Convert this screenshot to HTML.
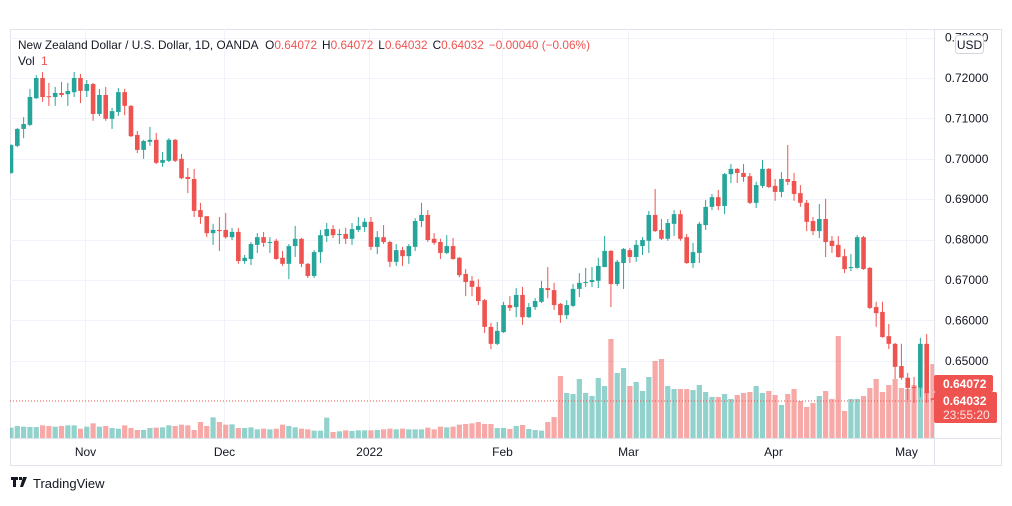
<!DOCTYPE html>
<html><head><meta charset="utf-8">
<style>
html,body{margin:0;padding:0;background:#fff;}
body{width:1012px;height:501px;overflow:hidden;font-family:"Liberation Sans",sans-serif;}
svg text{font-family:"Liberation Sans",sans-serif;}
</style></head>
<body>
<svg id="chart" width="1012" height="501" xmlns="http://www.w3.org/2000/svg">
  <rect x="10.5" y="29.5" width="991" height="436" fill="#fff" stroke="#e0e3eb"/>
  <g id="grid"></g>
  <g id="vol" clip-path="url(#pane)"></g>
  <line x1="10" x2="934" y1="401" y2="401" stroke="#ef5350" stroke-dasharray="1,2" stroke-width="1"/>
  <g id="candles" clip-path="url(#pane)"></g>
  <defs><clipPath id="pane"><rect x="10" y="29" width="924" height="409"/></clipPath></defs>
  <line x1="934.5" x2="934.5" y1="29" y2="466" stroke="#e0e3eb"/>
  <line x1="10" x2="1002" y1="438.5" y2="438.5" stroke="#e0e3eb"/>
  <g id="yaxis"></g>
  <g id="xaxis"></g>
  <g>
    <rect x="955.5" y="35.5" width="28" height="18" rx="3" fill="#fff" stroke="#d1d4dc"/>
    <text x="969.5" y="49" font-size="12" fill="#131722" text-anchor="middle">USD</text>
  </g>
  <g>
    <rect x="934" y="375" width="59" height="17" rx="2" fill="#ef5350"/>
    <text x="943" y="388" font-size="12" font-weight="bold" fill="#fff">0.64072</text>
  </g>
  <g>
    <rect x="934" y="392" width="63" height="31" rx="2" fill="#ef5350"/>
    <text x="943" y="405" font-size="12" font-weight="bold" fill="#fff">0.64032</text>
    <text x="943" y="419" font-size="12" fill="#fde3e3">23:55:20</text>
  </g>
  <text x="18" y="49" font-size="11.8" fill="#131722" textLength="572" lengthAdjust="spacing">New Zealand Dollar / U.S. Dollar, 1D, OANDA <tspan dx="4">O</tspan><tspan fill="#ef5350">0.64072</tspan><tspan dx="5">H</tspan><tspan fill="#ef5350">0.64072</tspan><tspan dx="5">L</tspan><tspan fill="#ef5350">0.64032</tspan><tspan dx="5">C</tspan><tspan fill="#ef5350">0.64032</tspan><tspan dx="5" fill="#ef5350">−0.00040 (−0.06%)</tspan></text>
  <text x="18" y="65" font-size="12" fill="#131722">Vol <tspan dx="3" fill="#ef5350">1</tspan></text>
  <g>
    <path d="M11 477h7v3h-2v7h-3v-7h-2z M19 477h3v3h-3z M23 477h4l-4 10h-3z" fill="#131722"/>
    <text x="33" y="488" font-size="13" fill="#131722">TradingView</text>
  </g>
</svg>
<script>
const opens=[0.6965,0.7032,0.7074,0.7084,0.7150,0.7200,0.7155,0.7153,0.7163,0.7160,0.7165,0.7200,0.7168,0.7185,0.7111,0.7158,0.7099,0.7116,0.7165,0.7131,0.7059,0.7022,0.7042,0.7047,0.6990,0.6995,0.7047,0.7000,0.6955,0.6950,0.6873,0.6858,0.6816,0.6824,0.6824,0.6806,0.6819,0.6747,0.6752,0.6787,0.6806,0.6792,0.6797,0.6755,0.6740,0.6784,0.6802,0.6740,0.6710,0.6769,0.6809,0.6826,0.6813,0.6814,0.6802,0.6824,0.6831,0.6844,0.6782,0.6806,0.6794,0.6745,0.6774,0.6759,0.6782,0.6846,0.6861,0.6802,0.6794,0.6767,0.6784,0.6755,0.6715,0.6698,0.6683,0.6650,0.6584,0.6542,0.6571,0.6638,0.6633,0.6663,0.6608,0.6633,0.6646,0.6680,0.6675,0.6641,0.6613,0.6636,0.6678,0.6693,0.6695,0.6698,0.6732,0.6772,0.6690,0.6742,0.6774,0.6757,0.6784,0.6797,0.6861,0.6824,0.6802,0.6839,0.6863,0.6806,0.6742,0.6767,0.6836,0.6881,0.6905,0.6883,0.6962,0.6975,0.6965,0.6957,0.6891,0.6933,0.6975,0.6933,0.6918,0.6950,0.6945,0.6915,0.6891,0.6846,0.6821,0.6851,0.6797,0.6787,0.6759,0.6730,0.6730,0.6806,0.6730,0.6633,0.6621,0.6561,0.6542,0.6487,0.6458,0.6435,0.6433,0.6542,0.64072];
const highs=[0.7036,0.7076,0.7103,0.7173,0.7207,0.7215,0.7188,0.7178,0.7190,0.7188,0.7215,0.7210,0.7195,0.7188,0.7173,0.7178,0.7126,0.7175,0.7173,0.7133,0.7069,0.7047,0.7079,0.7064,0.7017,0.7051,0.7049,0.7012,0.6977,0.6975,0.6891,0.6858,0.6839,0.6856,0.6866,0.6829,0.6829,0.6762,0.6794,0.6816,0.6819,0.6806,0.6802,0.6772,0.6789,0.6834,0.6804,0.6742,0.6774,0.6824,0.6841,0.6836,0.6826,0.6829,0.6841,0.6856,0.6853,0.6856,0.6821,0.6836,0.6797,0.6789,0.6782,0.6789,0.6853,0.6891,0.6873,0.6816,0.6802,0.6811,0.6804,0.6757,0.6727,0.6710,0.6702,0.6653,0.6594,0.6596,0.6646,0.6660,0.6680,0.6683,0.6643,0.6655,0.6698,0.6732,0.6693,0.6643,0.6650,0.6690,0.6717,0.6730,0.6732,0.6755,0.6809,0.6774,0.6750,0.6779,0.6779,0.6799,0.6806,0.6871,0.6925,0.6851,0.6851,0.6873,0.6873,0.6814,0.6792,0.6844,0.6898,0.6913,0.6923,0.6965,0.6987,0.6977,0.6987,0.6965,0.6943,0.6997,0.6977,0.6950,0.6967,0.7034,0.6965,0.6935,0.6898,0.6856,0.6888,0.6901,0.6809,0.6809,0.6777,0.6764,0.6811,0.6809,0.6732,0.6646,0.6646,0.6591,0.6544,0.6542,0.6470,0.6460,0.6557,0.6566,0.64072];
const lows=[0.6963,0.7029,0.7051,0.7081,0.7148,0.7141,0.7131,0.7131,0.7153,0.7131,0.7153,0.7138,0.7153,0.7094,0.7106,0.7094,0.7074,0.7106,0.7108,0.7054,0.7014,0.7000,0.7032,0.6987,0.6980,0.6992,0.6992,0.6950,0.6915,0.6856,0.6839,0.6806,0.6787,0.6772,0.6802,0.6799,0.6740,0.6740,0.6737,0.6767,0.6782,0.6767,0.6750,0.6735,0.6702,0.6757,0.6732,0.6705,0.6705,0.6742,0.6794,0.6804,0.6789,0.6789,0.6787,0.6819,0.6819,0.6774,0.6764,0.6789,0.6732,0.6735,0.6735,0.6740,0.6772,0.6831,0.6794,0.6787,0.6752,0.6764,0.6750,0.6707,0.6660,0.6660,0.6638,0.6569,0.6529,0.6539,0.6569,0.6623,0.6608,0.6589,0.6606,0.6626,0.6643,0.6655,0.6626,0.6594,0.6603,0.6633,0.6658,0.6683,0.6683,0.6680,0.6732,0.6633,0.6685,0.6678,0.6742,0.6745,0.6762,0.6767,0.6819,0.6799,0.6797,0.6809,0.6797,0.6740,0.6730,0.6742,0.6824,0.6873,0.6873,0.6863,0.6940,0.6940,0.6943,0.6888,0.6878,0.6928,0.6928,0.6896,0.6905,0.6935,0.6896,0.6881,0.6821,0.6811,0.6804,0.6757,0.6767,0.6755,0.6717,0.6722,0.6728,0.6725,0.6628,0.6584,0.6557,0.6529,0.6455,0.6453,0.6403,0.6396,0.6410,0.6396,0.64032];
const closes=[0.7034,0.7074,0.7086,0.7153,0.7200,0.7153,0.7153,0.7163,0.7158,0.7168,0.7200,0.7168,0.7185,0.7111,0.7158,0.7099,0.7118,0.7165,0.7131,0.7056,0.7022,0.7044,0.7047,0.6990,0.6997,0.7047,0.6995,0.6952,0.6950,0.6871,0.6856,0.6816,0.6824,0.6821,0.6806,0.6819,0.6747,0.6755,0.6789,0.6806,0.6792,0.6794,0.6752,0.6740,0.6784,0.6802,0.6740,0.6710,0.6769,0.6811,0.6826,0.6811,0.6814,0.6802,0.6826,0.6834,0.6844,0.6782,0.6806,0.6794,0.6745,0.6774,0.6759,0.6784,0.6846,0.6861,0.6799,0.6792,0.6767,0.6784,0.6752,0.6712,0.6695,0.6683,0.6648,0.6584,0.6542,0.6574,0.6638,0.6631,0.6663,0.6608,0.6633,0.6648,0.6680,0.6675,0.6638,0.6613,0.6638,0.6678,0.6693,0.6695,0.6700,0.6735,0.6772,0.6690,0.6745,0.6777,0.6757,0.6787,0.6799,0.6861,0.6821,0.6802,0.6841,0.6863,0.6802,0.6742,0.6769,0.6839,0.6881,0.6905,0.6883,0.6962,0.6975,0.6965,0.6955,0.6891,0.6935,0.6975,0.6930,0.6918,0.6950,0.6943,0.6913,0.6891,0.6844,0.6821,0.6851,0.6794,0.6784,0.6757,0.6727,0.6732,0.6806,0.6727,0.6631,0.6618,0.6559,0.6542,0.6485,0.6458,0.6433,0.6433,0.6542,0.6420,0.64032];
const volumes=[31,36,34,33,33,38,36,34,36,38,38,28,34,44,34,36,30,28,38,30,24,24,30,31,32,38,36,40,38,24,48,36,62,48,40,41,30,30,32,26,28,26,28,40,36,32,28,26,22,22,61,18,20,23,21,23,23,23,24,26,28,26,28,26,26,26,31,26,34,32,34,40,42,44,48,42,42,30,30,27,36,39,27,24,22,48,63,186,135,132,177,135,126,180,156,297,195,210,156,168,141,183,231,237,156,147,147,147,144,159,138,123,123,132,117,129,135,138,156,135,141,129,99,132,147,111,93,105,126,141,117,306,81,117,117,126,150,177,138,159,177,150,147,159,150,140,222];
const priceTicks=[0.73,0.72,0.71,0.70,0.69,0.68,0.67,0.66,0.65];
const timeLabels=["Nov","Dec","2022","Feb","Mar","Apr","May"];
const timeIdx=[12,34,57,78,98,121,142];

const NS="http://www.w3.org/2000/svg";
const X0=11, STEP=6.315;
function xAt(i){return X0+i*STEP;}
function yAt(p){return 78+(0.72-p)*4040;}
function vAt(v){return 438-v/3;}
function mk(tag,attrs,parent){const e=document.createElementNS(NS,tag);for(const k in attrs)e.setAttribute(k,attrs[k]);parent.appendChild(e);return e;}

const grid=document.getElementById('grid'), yaxis=document.getElementById('yaxis'), xaxis=document.getElementById('xaxis');
priceTicks.forEach(p=>{
  const y=Math.round(yAt(p))+0.5;
  const gl=mk('line',{x1:10,x2:934,y1:y,y2:y,stroke:'#f0f3fa'},grid);
  
  
  const t=mk('text',{x:945,y:yAt(p)+4,'font-size':12,fill:'#131722'},yaxis);
  t.textContent=p.toFixed(5);
  
  
});
timeLabels.forEach((lab,k)=>{
  const x=Math.round(xAt(timeIdx[k]))-1.5;
  const gl=mk('line',{x1:x,x2:x,y1:29,y2:438,stroke:'#f0f3fa'},grid);
  
  
  const t=mk('text',{x:x,y:456,'font-size':12,fill:'#131722','text-anchor':'middle'},xaxis);
  t.textContent=lab;
  
  
});

const vol=document.getElementById('vol'), cg=document.getElementById('candles');
for(let i=0;i<closes.length;i++){
  const up=closes[i]>=opens[i];
  const x=xAt(i);
  const vb=mk('rect',{x:x-2.6,y:vAt(volumes[i]),width:5.2,height:438-vAt(volumes[i]),fill:up?'rgba(38,166,154,0.5)':'rgba(239,83,80,0.5)'},vol);
  
  
  const col=up?'#26a69a':'#ef5350';
  const w=mk('line',{x1:x,x2:x,y1:yAt(highs[i]),y2:yAt(lows[i]),stroke:col,'stroke-width':1},cg);
  
  
  const top=yAt(Math.max(opens[i],closes[i])), bot=yAt(Math.min(opens[i],closes[i]));
  const b=mk('rect',{x:x-2.3,y:top,width:4.6,height:Math.max(1,bot-top),fill:col},cg);
  
  
}
</script>
</body></html>
